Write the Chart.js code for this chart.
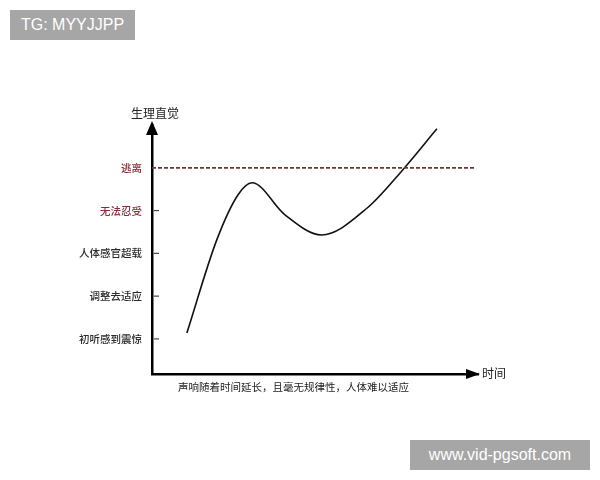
<!DOCTYPE html>
<html>
<head>
<meta charset="utf-8">
<script src="https://cdn.jsdelivr.net/npm/chart.js@4.4.1/dist/chart.umd.min.js"></script>
<style>
  html, body { margin: 0; padding: 0; background: #fff; }
  #wrap { position: relative; width: 600px; height: 480px; }
  canvas { position: absolute; left: 0; top: 0; }
  .txt { position: absolute; font-family: "Noto Sans CJK SC", sans-serif; color: #222; white-space: nowrap; }
  .mark { position: absolute; background: #a6a6a6; color: #fff; font-family: "Liberation Sans", Arial, sans-serif;
          font-size: 16px; line-height: 30px; text-align: center; }
</style>
</head>
<body>
<div id="wrap">
  <canvas id="c" width="600" height="480"></canvas>
  <div class="txt" style="left:131px;top:104px;font-size:12px;">生理直觉</div>
  <div class="txt" style="left:482px;top:364px;font-size:12px;">时间</div>
  <div class="txt" style="left:178px;top:379px;font-size:10.5px;">声响随着时间延长，且毫无规律性，人体难以适应</div>
  <div class="mark" style="left:10px;top:10px;width:125px;height:30px;">TG: MYYJJPP</div>
  <div class="mark" style="left:410px;top:440px;width:180px;height:30px;">www.vid-pgsoft.com</div>
</div>
<script>
// y levels (bottom to top)
const levelLabels = ['初听感到震惊', '调整去适应', '人体感官超载', '无法忍受', '逃离'];
const levelColors = ['#2a2a2a', '#2a2a2a', '#2a2a2a', '#8b2a3a', '#8b2a3a'];

// the curve (x = time, y = level)
const curveX = [1.07, 1.99, 2.64, 3.07, 4.08, 5.2, 6.60, 7.61, 8.74];
const curveY = [0.14, 2.32, 3.37, 3.65, 2.90, 2.43, 3.06, 3.88, 4.91];

// escape threshold line
const limitX = [0, 9.9];
const limitY = [4, 4];

const curve = curveX.map((x, i) => ({ x: x, y: curveY[i] }));
const limit = limitX.map((x, i) => ({ x: x, y: limitY[i] }));

// axis arrows and inner tick marks
const arrows = {
    id: 'arrows',
    afterDraw(chart) {
        const ctx = chart.ctx;
        const a = chart.chartArea;
        ctx.save();
        ctx.fillStyle = '#000';
        ctx.strokeStyle = '#000';
        // y arrow
        ctx.beginPath();
        ctx.moveTo(a.left, a.top - 4);
        ctx.lineTo(a.left - 6, a.top + 10);
        ctx.lineTo(a.left + 6, a.top + 10);
        ctx.closePath();
        ctx.fill();
        // x arrow
        ctx.beginPath();
        ctx.moveTo(a.right + 2, a.bottom);
        ctx.lineTo(a.right - 12, a.bottom - 5);
        ctx.lineTo(a.right - 12, a.bottom + 5);
        ctx.closePath();
        ctx.fill();
        // tick marks inside y axis
        const ys = chart.scales.y;
        ctx.lineWidth = 1.2;
        ctx.strokeStyle = '#444';
        [0, 1, 2, 3].forEach(v => {
            const py = ys.getPixelForValue(v);
            ctx.beginPath();
            ctx.moveTo(a.left + 2, py);
            ctx.lineTo(a.left + 7, py);
            ctx.stroke();
        });
        ctx.restore();
    }
};

new Chart(document.getElementById('c'), {
    type: 'scatter',
    data: {
        datasets: [
            {
                data: limit,
                showLine: true,
                borderColor: '#6e3535',
                borderWidth: 1.8,
                borderDash: [4, 2],
                pointRadius: 0
            },
            {
                data: curve,
                showLine: true,
                borderColor: '#111',
                borderWidth: 1.6,
                cubicInterpolationMode: 'monotone',
                pointRadius: 0
            }
        ]
    },
    options: {
        responsive: false,
        animation: false,
        layout: { padding: { left: 0, top: 125, right: 122, bottom: 0 } },
        plugins: { legend: { display: false }, tooltip: { enabled: false } },
        scales: {
            x: {
                type: 'linear',
                min: 0,
                max: 10,
                grid: { display: false },
                border: { color: '#000', width: 2.5 },
                ticks: { display: false },
                afterFit: s => { s.height = 106; }
            },
            y: {
                type: 'linear',
                min: -0.82,
                max: 5.0,
                grid: { display: false },
                border: { color: '#000', width: 2.5 },
                afterBuildTicks: s => { s.ticks = levelLabels.map((l, i) => ({ value: i })); },
                ticks: {
                    padding: 2,
                    font: { family: '"Noto Sans CJK SC", sans-serif', size: 10.5, weight: '500' },
                    color: ctx => levelColors[ctx.index] || '#333',
                    callback: v => levelLabels[v]
                },
                afterFit: s => { s.width = 152; }
            }
        }
    },
    plugins: [arrows]
});
</script>
</body>
</html>
